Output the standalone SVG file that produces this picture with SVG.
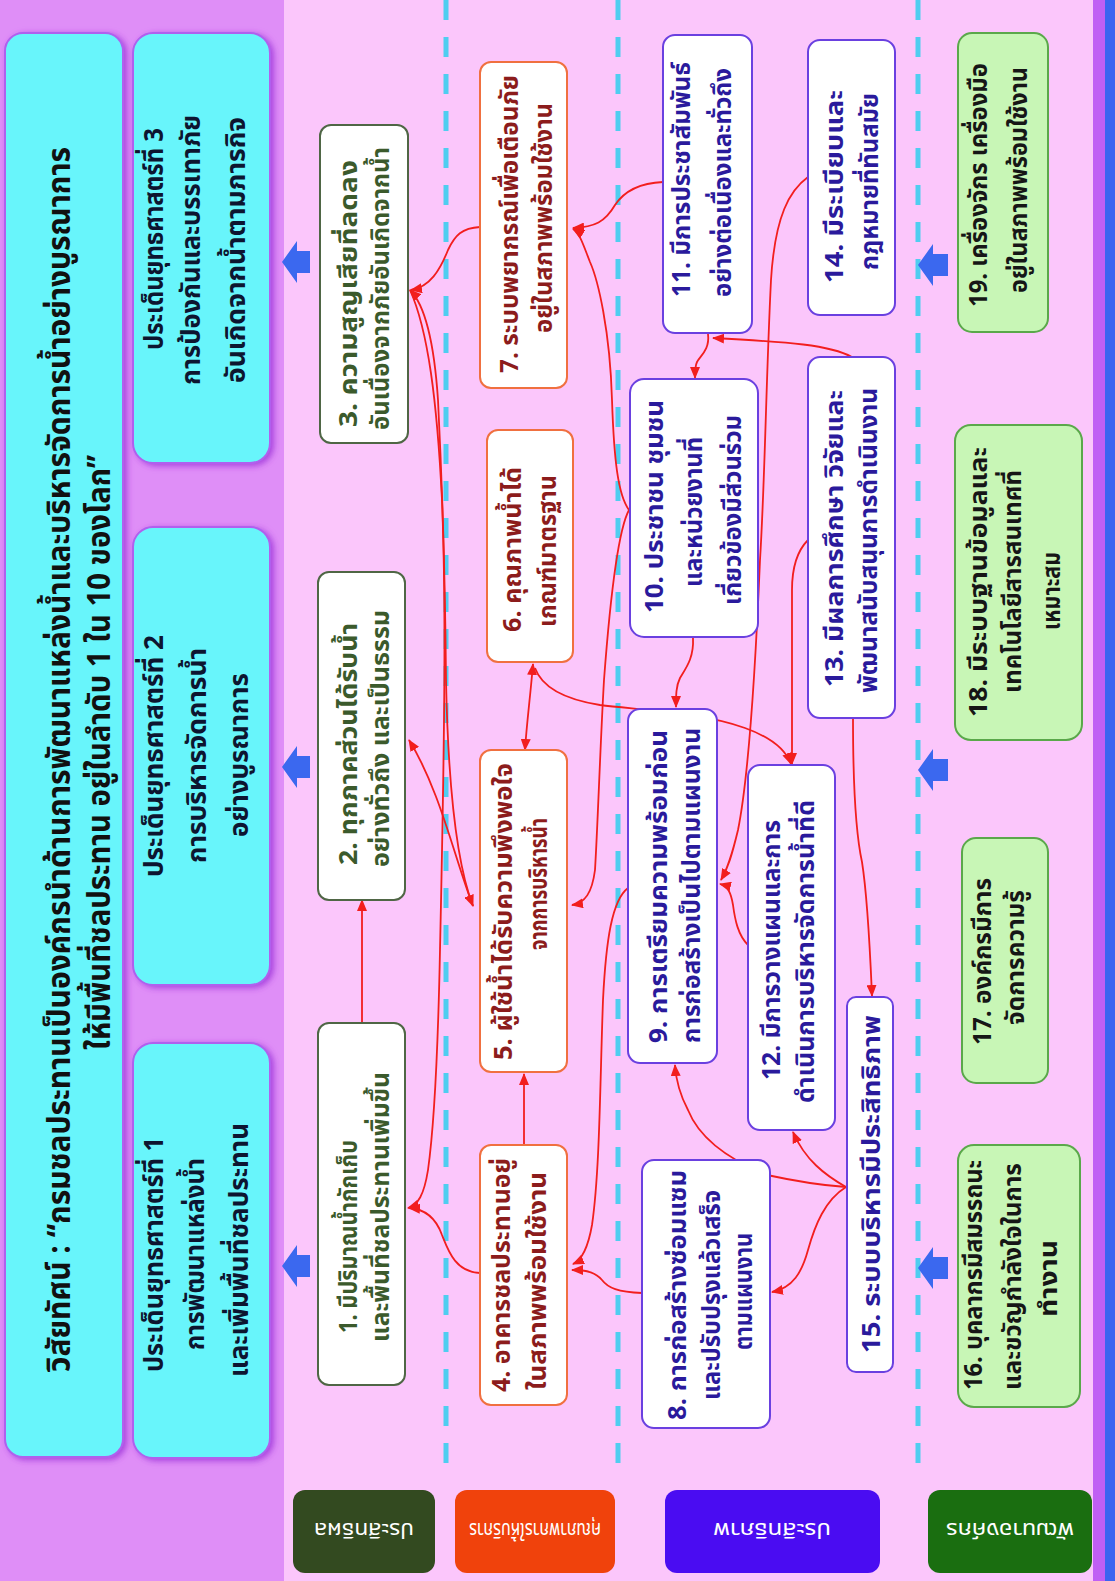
<svg xmlns="http://www.w3.org/2000/svg" width="1115" height="1581" viewBox="0 0 1115 1581">
<defs>
<style>
text{font-family:'Noto Sans Thai','Noto Sans','DejaVu Sans',sans-serif;font-weight:bold;}
.tt{font-size:32px;fill:#111;}
.st{font-size:27px;fill:#0d1530;}
.g{font-size:25px;fill:#3b5a2c;}
.o{font-size:25px;fill:#8c1c1c;}
.p{font-size:25px;fill:#2a1a9c;}
.k{font-size:25px;fill:#161616;}
.lb{font-size:22px;fill:#fff;font-weight:normal;}
.bx-g{fill:#fff;stroke:#4f6645;stroke-width:2;}
.bx-o{fill:#fff;stroke:#f07040;stroke-width:2;}
.bx-p{fill:#fff;stroke:#6a40e0;stroke-width:2;}
.bx-k{fill:#c8f6b6;stroke:#5aa84a;stroke-width:2;}
.cy{fill:#68f5fb;stroke:#b060ee;stroke-width:2;}
.cn{fill:none;stroke:#f21e1e;stroke-width:1.8;}
.dash{stroke:#4fcdf0;stroke-width:5;stroke-dasharray:20 17;}
.ba{fill:#3b68ef;}
</style>
<marker id="ah" viewBox="0 0 12 10" refX="11" refY="5" markerWidth="12" markerHeight="10" markerUnits="userSpaceOnUse" orient="auto-start-reverse"><path d="M0,0 L12,5 L0,10 z" fill="#f21e1e"/></marker>
<filter id="sh" x="-10%" y="-10%" width="120%" height="120%"><feDropShadow dx="3" dy="2" stdDeviation="3" flood-color="#9a2fd8" flood-opacity="0.8"/></filter>
</defs>

<g id="background">
<rect x="0" y="0" width="1115" height="1581" fill="#fbc6fb"/>
<rect x="0" y="0" width="284" height="1581" fill="#df8ef7"/>
<rect x="1093" y="0" width="12" height="1581" fill="#c05ff4"/>
<rect x="1105" y="0" width="10" height="1581" fill="#3c64f0"/>
<line class="dash" x1="446" y1="0" x2="446" y2="1463"/>
<line class="dash" x1="618" y1="0" x2="618" y2="1463"/>
<line class="dash" x1="918" y1="0" x2="918" y2="1463"/>
</g>

<g id="title">
<rect x="5" y="33" width="118" height="1424" rx="18" class="cy" filter="url(#sh)"/>
<text class="tt" transform="translate(70,1372) rotate(-90)" textLength="1225" lengthAdjust="spacingAndGlyphs">วิสัยทัศน์ : “กรมชลประทานเป็นองค์กรนำด้านการพัฒนาแหล่งน้ำและบริหารจัดการน้ำอย่างบูรณาการ</text>
<text class="tt" transform="translate(110,1050) rotate(-90)" textLength="595" lengthAdjust="spacingAndGlyphs">ให้มีพื้นที่ชลประทาน อยู่ในลำดับ 1 ใน 10 ของโลก”</text>
</g>

<g id="strategy1">
<rect x="133" y="1043" width="137" height="415" rx="20" class="cy" filter="url(#sh)"/>
<text class="st" transform="translate(163,1372) rotate(-90)" textLength="235" lengthAdjust="spacingAndGlyphs">ประเด็นยุทธศาสตร์ที่ 1</text>
<text class="st" transform="translate(204,1350) rotate(-90)" textLength="192" lengthAdjust="spacingAndGlyphs">การพัฒนาแหล่งน้ำ</text>
<text class="st" transform="translate(248,1377) rotate(-90)" textLength="254" lengthAdjust="spacingAndGlyphs">และเพิ่มพื้นที่ชลประทาน</text>
</g>
<g id="strategy2">
<rect x="133" y="527" width="137" height="458" rx="20" class="cy" filter="url(#sh)"/>
<text class="st" transform="translate(163,877) rotate(-90)" textLength="242" lengthAdjust="spacingAndGlyphs">ประเด็นยุทธศาสตร์ที่ 2</text>
<text class="st" transform="translate(206,863) rotate(-90)" textLength="215" lengthAdjust="spacingAndGlyphs">การบริหารจัดการน้ำ</text>
<text class="st" transform="translate(248,837) rotate(-90)" textLength="164" lengthAdjust="spacingAndGlyphs">อย่างบูรณาการ</text>
</g>
<g id="strategy3">
<rect x="133" y="33" width="137" height="430" rx="20" class="cy" filter="url(#sh)"/>
<text class="st" transform="translate(163,350) rotate(-90)" textLength="222" lengthAdjust="spacingAndGlyphs">ประเด็นยุทธศาสตร์ที่ 3</text>
<text class="st" transform="translate(200,385) rotate(-90)" textLength="270" lengthAdjust="spacingAndGlyphs">การป้องกันและบรรเทาภัย</text>
<text class="st" transform="translate(245,383) rotate(-90)" textLength="266" lengthAdjust="spacingAndGlyphs">อันเกิดจากน้ำตามภารกิจ</text>
</g>

<g id="blue-arrows">
<polygon class="ba" points="282,1266 297,1245 297,1255 310,1255 310,1277 297,1277 297,1287"/>
<polygon class="ba" points="282,767 297,746 297,756 310,756 310,778 297,778 297,788"/>
<polygon class="ba" points="282,262 297,241 297,251 310,251 310,273 297,273 297,283"/>
<polygon class="ba" points="918,1268 933,1247 933,1257 948,1257 948,1279 933,1279 933,1289"/>
<polygon class="ba" points="918,770 933,749 933,759 948,759 948,781 933,781 933,791"/>
<polygon class="ba" points="918,265 933,244 933,254 948,254 948,276 933,276 933,286"/>
</g>

<g id="labels">
<g id="label-effectiveness"><rect x="293" y="1490" width="142" height="83" rx="12" fill="#334a20"/><text class="lb" text-anchor="middle" transform="translate(364,1531) rotate(180)" y="8" textLength="100" lengthAdjust="spacingAndGlyphs">ประสิทธิผล</text></g>
<g id="label-quality"><rect x="455" y="1490" width="160" height="83" rx="12" fill="#f0420c"/><text class="lb" text-anchor="middle" transform="translate(535,1531) rotate(180)" y="8" textLength="132" lengthAdjust="spacingAndGlyphs">คุณภาพการให้บริการ</text></g>
<g id="label-efficiency"><rect x="665" y="1490" width="215" height="83" rx="12" fill="#4a0cf2"/><text class="lb" text-anchor="middle" transform="translate(772,1531) rotate(180)" y="8" textLength="118" lengthAdjust="spacingAndGlyphs">ประสิทธิภาพ</text></g>
<g id="label-development"><rect x="928" y="1490" width="164" height="83" rx="12" fill="#1a6e10"/><text class="lb" text-anchor="middle" transform="translate(1010,1531) rotate(180)" y="8" textLength="128" lengthAdjust="spacingAndGlyphs">พัฒนาองค์กร</text></g>
</g>

<g id="connectors">
<path class="cn" marker-end="url(#ah)" d="M362,1023 L362,900"/>
<path class="cn" marker-end="url(#ah)" d="M480,1273 C455,1272 448,1250 442,1235 C436,1218 425,1209 409,1208"/>
<path class="cn" marker-end="url(#ah)" d="M524,1145 L524,1074"/>
<path class="cn" marker-end="url(#ah)" d="M642,1293 C618,1292 608,1288 602,1280 C596,1273 588,1270 572,1270"/>
<path class="cn" marker-end="url(#ah)" d="M628,888 C612,900 606,940 603,1000 C600,1080 600,1170 592,1225 C588,1248 582,1260 573,1264"/>
<path class="cn" marker-start="url(#ah)" marker-end="url(#ah)" d="M473,906 C455,860 440,790 409,740"/>
<path class="cn" marker-end="url(#ah)" d="M473,906 C455,860 448,780 446,680 C445,560 442,480 438,400 C434,340 425,305 410,290"/>
<path class="cn" marker-end="url(#ah)" d="M410,290 C428,330 437,400 442,500 C446,600 445,720 440,950 C438,1050 435,1120 428,1170 C424,1195 418,1205 408,1208"/>
<path class="cn" marker-start="url(#ah)" marker-end="url(#ah)" d="M533,664 C530,700 527,720 525,750"/>
<path class="cn" marker-end="url(#ah)" d="M535,668 C540,682 556,698 600,705 C640,710 700,712 745,728 C770,737 785,748 791,764"/>
<path class="cn" marker-end="url(#ah)" d="M480,227 C462,228 455,235 448,250 C440,270 430,287 411,290"/>
<path class="cn" marker-end="url(#ah)" d="M663,182 C640,183 625,190 615,205 C605,222 595,227 573,228"/>
<path class="cn" marker-end="url(#ah)" d="M808,540 C798,550 792,565 792,590 L792,764"/>
<path class="cn" marker-end="url(#ah)" d="M852,357 C830,345 790,342 713,338"/>
<path class="cn" marker-end="url(#ah)" d="M708,334 C710,350 700,356 697,362 C695,366 695,370 695,378"/>
<path class="cn" marker-end="url(#ah)" d="M629,510 C618,495 614,460 612,400 C610,330 598,280 590,262 C584,247 580,233 573,229"/>
<path class="cn" marker-end="url(#ah)" d="M629,510 C618,530 610,600 604,680 C600,750 598,820 595,870 C592,893 585,903 572,905"/>
<path class="cn" marker-end="url(#ah)" d="M693,638 C694,658 686,668 680,678 C676,686 676,695 676,707"/>
<path class="cn" marker-end="url(#ah)" d="M808,177 C790,190 775,215 771,280 C766,380 765,480 760,560 C755,680 748,780 738,830 C732,855 728,868 721,880"/>
<path class="cn" marker-end="url(#ah)" d="M748,945 C738,935 735,920 733,905 C731,893 728,886 720,884"/>
<path class="cn" marker-end="url(#ah)" d="M853,718 C853,780 855,830 862,862 C868,900 870,950 872,996"/>
<path class="cn" marker-end="url(#ah)" d="M846,1187 C825,1175 805,1160 793,1132"/>
<path class="cn" marker-end="url(#ah)" d="M846,1187 C825,1200 815,1225 808,1250 C802,1272 793,1288 772,1292"/>
<path class="cn" marker-end="url(#ah)" d="M846,1187 C815,1185 790,1180 767,1175 C730,1160 700,1140 688,1110 C680,1095 676,1080 675,1065"/>
</g>

<g id="n1"><rect x="318" y="1023" width="87" height="362" rx="11" class="bx-g"/>
<text class="g" transform="translate(357,1333) rotate(-90)" textLength="193" lengthAdjust="spacingAndGlyphs">1. มีปริมาณน้ำกักเก็บ</text>
<text class="g" transform="translate(389,1342) rotate(-90)" textLength="270" lengthAdjust="spacingAndGlyphs">และพื้นที่ชลประทานเพิ่มขึ้น</text></g>
<g id="n2"><rect x="318" y="572" width="87" height="328" rx="11" class="bx-g"/>
<text class="g" transform="translate(357,865) rotate(-90)" textLength="242" lengthAdjust="spacingAndGlyphs">2. ทุกภาคส่วนได้รับน้ำ</text>
<text class="g" transform="translate(389,867) rotate(-90)" textLength="257" lengthAdjust="spacingAndGlyphs">อย่างทั่วถึง และเป็นธรรม</text></g>
<g id="n3"><rect x="320" y="125" width="88" height="318" rx="11" class="bx-g"/>
<text class="g" transform="translate(357,427) rotate(-90)" textLength="267" lengthAdjust="spacingAndGlyphs">3. ความสูญเสียที่ลดลง</text>
<text class="g" transform="translate(389,430) rotate(-90)" textLength="283" lengthAdjust="spacingAndGlyphs">อันเนื่องจากภัยอันเกิดจากน้ำ</text></g>

<g id="n4"><rect x="480" y="1145" width="87" height="260" rx="11" class="bx-o"/>
<text class="o" transform="translate(510,1392) rotate(-90)" textLength="234" lengthAdjust="spacingAndGlyphs">4. อาคารชลประทานอยู่</text>
<text class="o" transform="translate(546,1390) rotate(-90)" textLength="218" lengthAdjust="spacingAndGlyphs">ในสภาพพร้อมใช้งาน</text></g>
<g id="n5"><rect x="480" y="750" width="87" height="322" rx="11" class="bx-o"/>
<text class="o" transform="translate(512,1060) rotate(-90)" textLength="297" lengthAdjust="spacingAndGlyphs">5. ผู้ใช้น้ำได้รับความพึงพอใจ</text>
<text class="o" transform="translate(547,950) rotate(-90)" textLength="132" lengthAdjust="spacingAndGlyphs">จากการบริหารน้ำ</text></g>
<g id="n6"><rect x="487" y="430" width="86" height="232" rx="11" class="bx-o"/>
<text class="o" transform="translate(521,632) rotate(-90)" textLength="165" lengthAdjust="spacingAndGlyphs">6. คุณภาพน้ำได้</text>
<text class="o" transform="translate(556,627) rotate(-90)" textLength="152" lengthAdjust="spacingAndGlyphs">เกณฑ์มาตรฐาน</text></g>
<g id="n7"><rect x="480" y="62" width="87" height="326" rx="11" class="bx-o"/>
<text class="o" transform="translate(518,373) rotate(-90)" textLength="298" lengthAdjust="spacingAndGlyphs">7. ระบบพยากรณ์เพื่อเตือนภัย</text>
<text class="o" transform="translate(552,333) rotate(-90)" textLength="230" lengthAdjust="spacingAndGlyphs">อยู่ในสภาพพร้อมใช้งาน</text></g>

<g id="n8"><rect x="642" y="1160" width="128" height="268" rx="12" class="bx-p"/>
<text class="p" transform="translate(686,1420) rotate(-90)" textLength="250" lengthAdjust="spacingAndGlyphs">8. การก่อสร้างซ่อมแซม</text>
<text class="p" transform="translate(720,1400) rotate(-90)" textLength="210" lengthAdjust="spacingAndGlyphs">และปรับปรุงแล้วเสร็จ</text>
<text class="p" transform="translate(752,1350) rotate(-90)" textLength="117" lengthAdjust="spacingAndGlyphs">ตามแผนงาน</text></g>
<g id="n9"><rect x="628" y="709" width="89" height="354" rx="12" class="bx-p"/>
<text class="p" transform="translate(667,1043) rotate(-90)" textLength="313" lengthAdjust="spacingAndGlyphs">9. การเตรียมความพร้อมก่อน</text>
<text class="p" transform="translate(700,1043) rotate(-90)" textLength="315" lengthAdjust="spacingAndGlyphs">การก่อสร้างเป็นไปตามแผนงาน</text></g>
<g id="n10"><rect x="630" y="379" width="128" height="258" rx="14" class="bx-p"/>
<text class="p" transform="translate(663,613) rotate(-90)" textLength="213" lengthAdjust="spacingAndGlyphs">10. ประชาชน ชุมชน</text>
<text class="p" transform="translate(702,587) rotate(-90)" textLength="150" lengthAdjust="spacingAndGlyphs">และหน่วยงานที่</text>
<text class="p" transform="translate(741,605) rotate(-90)" textLength="190" lengthAdjust="spacingAndGlyphs">เกี่ยวข้องมีส่วนร่วม</text></g>
<g id="n11"><rect x="663" y="35" width="89" height="298" rx="12" class="bx-p"/>
<text class="p" transform="translate(690,297) rotate(-90)" textLength="235" lengthAdjust="spacingAndGlyphs">11. มีการประชาสัมพันธ์</text>
<text class="p" transform="translate(731,297) rotate(-90)" textLength="229" lengthAdjust="spacingAndGlyphs">อย่างต่อเนื่องและทั่วถึง</text></g>
<g id="n12"><rect x="748" y="765" width="87" height="365" rx="12" class="bx-p"/>
<text class="p" transform="translate(780,1080) rotate(-90)" textLength="260" lengthAdjust="spacingAndGlyphs">12. มีการวางแผนและการ</text>
<text class="p" transform="translate(814,1103) rotate(-90)" textLength="303" lengthAdjust="spacingAndGlyphs">ดำเนินการบริหารจัดการน้ำที่ดี</text></g>
<g id="n13"><rect x="808" y="357" width="87" height="361" rx="12" class="bx-p"/>
<text class="p" transform="translate(843,687) rotate(-90)" textLength="297" lengthAdjust="spacingAndGlyphs">13. มีผลการศึกษา วิจัยและ</text>
<text class="p" transform="translate(877,693) rotate(-90)" textLength="305" lengthAdjust="spacingAndGlyphs">พัฒนาสนับสนุนการดำเนินงาน</text></g>
<g id="n14"><rect x="808" y="40" width="87" height="275" rx="12" class="bx-p"/>
<text class="p" transform="translate(843,283) rotate(-90)" textLength="193" lengthAdjust="spacingAndGlyphs">14. มีระเบียบและ</text>
<text class="p" transform="translate(878,270) rotate(-90)" textLength="177" lengthAdjust="spacingAndGlyphs">กฎหมายที่ทันสมัย</text></g>
<g id="n15"><rect x="847" y="997" width="46" height="375" rx="9" class="bx-p"/>
<text class="p" transform="translate(880,1353) rotate(-90)" textLength="338" lengthAdjust="spacingAndGlyphs">15. ระบบบริหารมีประสิทธิภาพ</text></g>

<g id="n16"><rect x="958" y="1145" width="122" height="262" rx="16" class="bx-k"/>
<text class="k" transform="translate(982,1390) rotate(-90)" textLength="230" lengthAdjust="spacingAndGlyphs">16. บุคลากรมีสมรรถนะ</text>
<text class="k" transform="translate(1021,1390) rotate(-90)" textLength="227" lengthAdjust="spacingAndGlyphs">และขวัญกำลังใจในการ</text>
<text class="k" transform="translate(1057,1317) rotate(-90)" textLength="77" lengthAdjust="spacingAndGlyphs">ทำงาน</text></g>
<g id="n17"><rect x="962" y="838" width="86" height="245" rx="14" class="bx-k"/>
<text class="k" transform="translate(991,1045) rotate(-90)" textLength="167" lengthAdjust="spacingAndGlyphs">17. องค์กรมีการ</text>
<text class="k" transform="translate(1024,1025) rotate(-90)" textLength="135" lengthAdjust="spacingAndGlyphs">จัดการความรู้</text></g>
<g id="n18"><rect x="955" y="425" width="127" height="315" rx="16" class="bx-k"/>
<text class="k" transform="translate(987,717) rotate(-90)" textLength="270" lengthAdjust="spacingAndGlyphs">18. มีระบบฐานข้อมูลและ</text>
<text class="k" transform="translate(1021,693) rotate(-90)" textLength="223" lengthAdjust="spacingAndGlyphs">เทคโนโลยีสารสนเทศที่</text>
<text class="k" transform="translate(1060,630) rotate(-90)" textLength="78" lengthAdjust="spacingAndGlyphs">เหมาะสม</text></g>
<g id="n19"><rect x="958" y="33" width="90" height="299" rx="14" class="bx-k"/>
<text class="k" transform="translate(987,307) rotate(-90)" textLength="244" lengthAdjust="spacingAndGlyphs">19. เครื่องจักร เครื่องมือ</text>
<text class="k" transform="translate(1027,293) rotate(-90)" textLength="226" lengthAdjust="spacingAndGlyphs">อยู่ในสภาพพร้อมใช้งาน</text></g>
</svg>
